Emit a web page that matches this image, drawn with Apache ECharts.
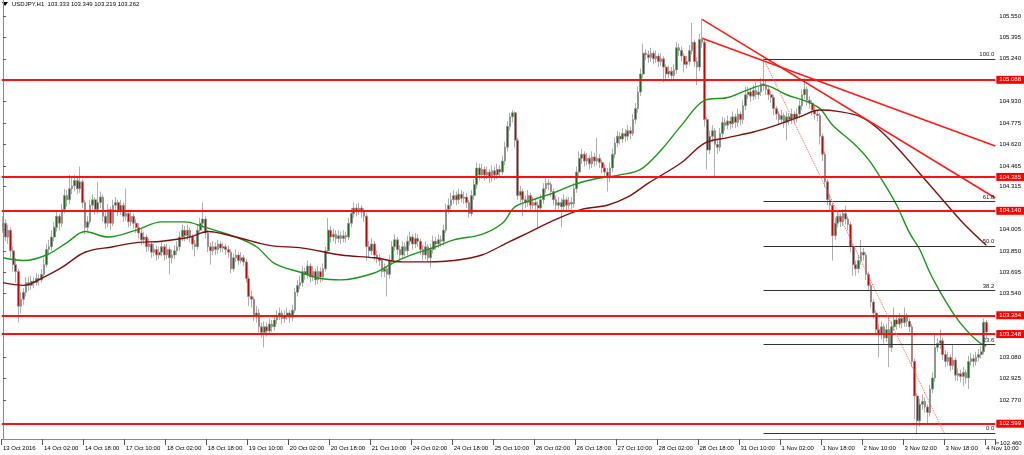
<!DOCTYPE html>
<html><head><meta charset="utf-8">
<script src="https://cdn.jsdelivr.net/npm/echarts@6/dist/echarts.min.js"></script>
<style>html,body{margin:0;padding:0;background:#fff}#c{width:1024px;height:455px}</style>
</head><body><div id="c"></div><script>
// ---- data (USDJPY H1, 13 Oct 10:00 .. 4 Nov 10:00) ----
const symbolTitle = 'USDJPY,H1';
const firstOpen = 104.02;
const closes = [
104.05,103.95,104.00,103.85,103.75,103.70,103.45,103.50,103.55,103.62,
103.60,103.63,103.62,103.65,103.64,103.68,103.75,103.86,103.88,103.95,
104.02,104.10,104.05,104.15,104.25,104.22,104.30,104.32,104.36,104.30,
104.35,104.20,104.02,104.06,104.18,104.22,104.15,104.20,104.24,104.10,
104.05,104.15,104.05,104.18,104.20,104.14,104.18,104.10,104.12,104.06,
104.10,104.05,104.02,103.98,103.93,103.95,103.88,103.90,103.84,103.86,
103.82,103.84,103.88,103.82,103.86,103.80,103.82,103.85,103.88,103.95,
104.00,103.96,104.00,103.95,103.90,103.88,104.00,104.05,104.08,103.98,
103.88,103.85,103.88,103.86,103.90,103.87,103.88,103.86,103.84,103.72,
103.80,103.82,103.78,103.80,103.77,103.65,103.52,103.50,103.38,103.40,
103.30,103.26,103.30,103.27,103.32,103.30,103.35,103.38,103.40,103.36,
103.38,103.40,103.37,103.42,103.55,103.60,103.62,103.70,103.68,103.74,
103.66,103.70,103.64,103.70,103.66,103.72,103.85,104.00,103.95,103.97,
103.94,103.96,103.94,103.96,103.95,104.05,104.12,104.16,104.14,104.16,
104.13,104.10,103.88,103.85,103.90,103.82,103.80,103.78,103.70,103.72,
103.68,103.78,103.88,103.93,103.86,103.82,103.88,103.85,103.92,103.95,
103.90,103.94,103.92,103.86,103.82,103.88,103.80,103.86,103.92,103.90,
103.93,103.92,104.00,104.15,104.18,104.22,104.25,104.22,104.26,104.23,
104.24,104.20,104.12,104.25,104.33,104.45,104.40,104.44,104.40,104.42,
104.38,104.43,104.40,104.44,104.42,104.50,104.60,104.75,104.82,104.85,
104.65,104.25,104.28,104.22,104.20,104.25,104.18,104.20,104.18,104.16,
104.22,104.30,104.34,104.33,104.28,104.22,104.18,104.20,104.17,104.22,
104.18,104.20,104.19,104.30,104.42,104.52,104.55,104.50,104.52,104.48,
104.53,104.50,104.52,104.49,104.45,104.42,104.38,104.45,104.55,104.63,
104.68,104.66,104.70,104.68,104.72,104.70,104.80,104.88,105.00,105.13,
105.28,105.27,105.25,105.28,105.24,105.26,105.22,105.24,105.18,105.13,
105.15,105.12,105.16,105.32,105.30,105.26,105.20,105.22,105.30,105.36,
105.22,105.18,105.38,105.36,104.80,104.58,104.68,104.72,104.62,104.60,
104.70,104.78,104.76,104.79,104.77,104.82,104.78,104.84,104.80,104.90,
104.98,105.00,104.97,105.01,104.98,105.00,105.06,105.05,105.02,104.98,
104.96,104.88,104.84,104.80,104.83,104.78,104.82,104.80,104.84,104.81,
104.84,104.90,104.98,105.02,104.94,104.92,104.87,104.84,104.83,104.68,
104.55,104.35,104.22,104.18,103.96,104.05,104.10,104.06,104.12,104.08,
104.04,103.88,103.75,103.72,103.78,103.84,103.82,103.68,103.60,103.48,
103.40,103.28,103.25,103.30,103.22,103.28,103.15,103.30,103.35,103.32,
103.36,103.33,103.38,103.34,103.30,103.05,102.80,102.62,102.74,102.76,
102.72,102.68,102.85,102.93,103.15,103.18,103.20,103.10,103.05,103.08,
103.02,103.06,102.95,102.96,102.94,102.97,102.93,103.05,103.07,103.05,
103.08,103.10,103.12,103.333,103.262];
const highs = [
104.10,104.08,104.04,104.02,103.88,103.80,103.72,103.55,103.58,103.66,
103.66,103.67,103.66,103.69,103.68,103.72,103.80,103.90,103.93,104.00,
104.06,104.14,104.12,104.19,104.30,104.29,104.40,104.38,104.40,104.39,
104.46,104.37,104.22,104.10,104.22,104.26,104.24,104.35,104.28,104.26,
104.13,104.19,104.17,104.22,104.24,104.22,104.22,104.20,104.30,104.15,
104.14,104.12,104.08,104.05,104.01,103.99,103.97,103.94,103.92,103.90,
103.89,103.88,103.92,103.90,103.90,103.88,103.86,103.89,103.92,103.99,
104.04,104.03,104.04,104.02,103.97,103.93,104.04,104.09,104.20,104.10,
104.00,103.91,103.92,103.91,103.93,103.92,103.91,103.90,103.89,103.86,
103.83,103.86,103.84,103.84,103.82,103.79,103.67,103.56,103.52,103.45,
103.43,103.33,103.34,103.33,103.36,103.35,103.39,103.42,103.44,103.42,
103.42,103.44,103.42,103.46,103.58,103.64,103.67,103.74,103.73,103.78,
103.76,103.74,103.72,103.74,103.73,103.76,103.88,104.09,104.03,104.01,
104.00,104.00,103.99,104.00,103.99,104.09,104.16,104.20,104.19,104.20,
104.18,104.16,104.12,103.92,103.94,103.92,103.85,103.83,103.80,103.76,
103.74,103.82,103.92,103.97,103.95,103.89,103.92,103.91,103.96,103.99,
103.97,103.98,103.97,103.94,103.89,103.92,103.90,103.90,103.96,103.95,
103.97,103.96,104.04,104.19,104.23,104.27,104.29,104.28,104.30,104.29,
104.28,104.27,104.22,104.29,104.37,104.49,104.48,104.48,104.46,104.46,
104.44,104.47,104.46,104.48,104.47,104.54,104.64,104.79,104.85,104.87,
104.86,104.67,104.32,104.30,104.25,104.29,104.27,104.24,104.23,104.21,
104.26,104.34,104.38,104.37,104.35,104.30,104.25,104.24,104.23,104.26,
104.24,104.24,104.24,104.34,104.46,104.57,104.59,104.57,104.56,104.54,
104.57,104.56,104.67,104.55,104.51,104.48,104.45,104.49,104.59,104.67,
104.72,104.71,104.74,104.73,104.76,104.75,104.84,104.92,105.04,105.17,
105.35,105.31,105.30,105.32,105.30,105.30,105.28,105.28,105.26,105.20,
105.19,105.18,105.20,105.36,105.35,105.33,105.28,105.26,105.34,105.50,
105.38,105.25,105.42,105.53,105.38,104.82,104.72,104.76,104.74,104.66,
104.74,104.82,104.81,104.83,104.82,104.86,104.84,104.88,104.86,104.94,
105.04,105.04,105.03,105.05,105.07,105.04,105.10,105.24,105.08,105.04,
105.01,104.98,104.90,104.86,104.87,104.85,104.86,104.85,104.88,104.86,
104.88,104.94,105.02,105.10,105.04,104.97,104.94,104.90,104.87,104.85,
104.70,104.57,104.37,104.26,104.20,104.09,104.14,104.12,104.15,104.18,
104.10,104.06,103.90,103.78,103.82,103.93,103.87,103.84,103.70,103.62,
103.50,103.42,103.32,103.34,103.32,103.32,103.37,103.34,103.44,103.38,
103.40,103.38,103.44,103.40,103.36,103.32,103.07,102.82,102.78,102.81,
102.79,102.74,102.88,102.97,103.25,103.22,103.28,103.22,103.13,103.12,
103.10,103.17,103.08,103.00,102.99,103.01,102.99,103.09,103.11,103.10,
103.12,103.14,103.16,103.36,103.349];
const lows = [
103.98,103.92,103.90,103.80,103.70,103.62,103.33,103.40,103.46,103.52,
103.56,103.57,103.58,103.60,103.60,103.62,103.66,103.73,103.82,103.85,
103.92,103.99,104.00,104.02,104.12,104.17,104.19,104.26,104.28,104.26,
104.27,104.16,103.97,103.99,104.04,104.14,104.11,104.12,104.16,104.06,
104.01,104.02,104.00,104.03,104.14,104.10,104.11,104.06,104.07,104.02,
104.03,104.01,103.98,103.94,103.89,103.90,103.84,103.85,103.80,103.81,
103.78,103.79,103.81,103.78,103.79,103.68,103.76,103.79,103.82,103.85,
103.92,103.92,103.93,103.91,103.86,103.81,103.86,103.97,104.02,103.94,
103.84,103.75,103.82,103.82,103.83,103.84,103.84,103.82,103.80,103.69,
103.70,103.77,103.75,103.76,103.74,103.62,103.45,103.44,103.34,103.33,
103.26,103.22,103.15,103.23,103.24,103.26,103.27,103.32,103.35,103.32,
103.33,103.35,103.33,103.34,103.40,103.52,103.57,103.59,103.64,103.65,
103.62,103.63,103.60,103.61,103.62,103.63,103.70,103.83,103.91,103.92,
103.90,103.91,103.90,103.91,103.91,103.93,104.02,104.09,104.10,104.11,
104.09,104.06,103.78,103.80,103.82,103.78,103.76,103.74,103.66,103.66,
103.52,103.65,103.75,103.85,103.82,103.78,103.79,103.81,103.82,103.89,
103.86,103.87,103.88,103.82,103.78,103.79,103.77,103.73,103.83,103.86,
103.87,103.88,103.89,103.98,104.12,104.15,104.19,104.18,104.19,104.20,
104.19,104.16,104.09,104.10,104.22,104.30,104.36,104.37,104.36,104.37,
104.34,104.35,104.36,104.37,104.38,104.40,104.47,104.57,104.72,104.78,
104.60,104.22,104.20,104.10,104.16,104.17,104.14,104.15,104.14,104.02,
104.13,104.19,104.27,104.29,104.24,104.18,104.14,104.15,104.02,104.14,
104.14,104.15,104.15,104.16,104.27,104.39,104.48,104.46,104.47,104.44,
104.45,104.46,104.47,104.45,104.41,104.38,104.28,104.35,104.42,104.52,
104.60,104.62,104.63,104.64,104.65,104.66,104.68,104.77,104.85,104.97,
105.10,105.23,105.21,105.22,105.20,105.21,105.18,105.19,105.07,105.09,
105.10,105.08,105.09,105.13,105.26,105.22,105.14,105.17,105.19,105.27,
105.18,105.05,105.15,105.32,104.75,104.44,104.55,104.64,104.38,104.55,
104.57,104.67,104.72,104.73,104.73,104.74,104.74,104.75,104.76,104.77,
104.87,104.95,104.93,104.94,104.95,104.95,104.97,105.01,104.98,104.94,
104.92,104.83,104.80,104.76,104.77,104.74,104.65,104.76,104.77,104.77,
104.78,104.81,104.87,104.95,104.90,104.88,104.83,104.80,104.79,104.62,
104.50,104.31,104.18,104.14,103.78,103.93,104.02,104.02,104.03,104.04,
104.00,103.84,103.67,103.67,103.69,103.75,103.78,103.64,103.56,103.44,
103.36,103.24,103.08,103.21,103.18,103.19,103.01,103.12,103.27,103.28,
103.29,103.29,103.30,103.30,103.26,103.01,102.63,102.53,102.58,102.70,
102.68,102.59,102.65,102.82,102.90,103.12,103.14,103.06,103.01,103.02,
102.98,102.99,102.91,102.91,102.90,102.87,102.89,102.85,103.02,103.01,
103.02,103.05,103.07,103.10,103.219];

const tickLabels = ['13 Oct 2016','14 Oct 02:00','14 Oct 18:00','17 Oct 10:00','18 Oct 02:00','18 Oct 18:00',
'19 Oct 10:00','20 Oct 02:00','20 Oct 18:00','21 Oct 10:00','24 Oct 02:00','24 Oct 18:00','25 Oct 10:00',
'26 Oct 02:00','26 Oct 18:00','27 Oct 10:00','28 Oct 02:00','28 Oct 18:00','31 Oct 10:00','1 Nov 02:00',
'1 Nov 18:00','2 Nov 10:00','3 Nov 02:00','3 Nov 18:00','4 Nov 10:00'];
const priceTicks = [105.550,105.395,105.240,104.930,104.775,104.620,104.465,104.315,104.005,103.850,
103.695,103.540,103.080,102.925,102.770];
const bottomPriceTick = 102.460;
const levels = [105.088,104.385,104.140,103.384,103.248,102.599];

const maGreen = [[0,103.80],[8,103.78],[17,103.82],[25,103.91],[32,103.99],[41,103.95],[52,104.00],[62,104.06],
[71,104.06],[79,104.02],[91,103.95],[99,103.88],[106,103.76],[117,103.69],[124,103.65],[132,103.64],[145,103.69],
[152,103.76],[158,103.81],[169,103.88],[176,103.93],[187,103.97],[195,104.05],[200,104.17],[207,104.22],[215,104.27],
[223,104.33],[231,104.37],[241,104.40],[249,104.44],[257,104.58],[265,104.76],[274,104.94],[283,104.96],[290,105.01],
[297,105.05],[306,104.98],[314,104.93],[319,104.88],[324,104.76],[332,104.63],[338,104.51],[344,104.34],[349,104.18],
[354,103.98],[358,103.86],[362,103.69],[367,103.52],[371,103.40],[376,103.28],[381,103.19],[384,103.16]];
const maMaroon = [[0,103.62],[8,103.60],[16,103.66],[23,103.73],[32,103.84],[43,103.88],[52,103.91],[62,103.92],
[73,103.95],[80,103.99],[91,103.95],[104,103.89],[117,103.87],[132,103.82],[145,103.80],[156,103.77],[166,103.77],
[176,103.78],[187,103.82],[197,103.91],[205,103.98],[215,104.07],[226,104.15],[236,104.18],[244,104.24],[252,104.34],
[265,104.49],[274,104.63],[283,104.67],[293,104.71],[302,104.76],[311,104.82],[319,104.87],[326,104.86],[335,104.82],
[342,104.73],[350,104.58],[358,104.41],[366,104.24],[375,104.05],[384,103.89]];

const trend1 = [[273,105.526],[387.5,104.233]];
const trend2 = [[273,105.389],[387.5,104.609]];
const fibHigh = 105.240, fibLow = 102.533;
const fibStartBar = 297, fibEndBar = 367.5;
const fibRatios = [100.0, 61.8, 50.0, 38.2, 23.6, 0.0];

// ---- chart ----
const NCAT = 388;
const cats = Array.from({length: NCAT}, (_, i) => String(i));
const opens = closes.map((c, i) => i === 0 ? firstOpen : closes[i - 1]);
const candles = closes.map((c, i) => [opens[i], c, lows[i], highs[i]]);
const FONT = 'Liberation Sans';
const FS = 6;
const yMax = 105.6658, yMin = 102.4883;

const chart = echarts.init(document.getElementById('c'), null, {renderer: 'canvas'});
const fibLines = fibRatios.map(r => {
  const p = fibLow + (fibHigh - fibLow) * r / 100;
  return [{coord: [fibStartBar, p], label: {formatter: r.toFixed(1)}}, {coord: [387.5, p]}];
});
const last = closes.length - 1;
const option = {
  animation: false,
  backgroundColor: '#ffffff',
  grid: {left: 0, right: 28, top: 0, bottom: 16, containLabel: false},
  xAxis: [{
    type: 'category', data: cats, boundaryGap: true, gridIndex: 0,
    axisLine: {show: true, lineStyle: {color: '#8a8a8a', width: 1}},
    axisTick: {show: true, interval: (i) => i % 16 === 0, length: 6, lineStyle: {color: '#555'}},
    axisLabel: {show: true, interval: (i) => i % 16 === 0, formatter: (v, i) => tickLabels[i / 16] || '',
      align: 'left', margin: 6, fontSize: FS, fontFamily: FONT, color: '#000'},
    splitLine: {show: false}
  }, {
    type: 'value', min: -0.5, max: NCAT - 0.5, show: false, gridIndex: 0
  }],
  yAxis: [{
    type: 'value', position: 'right', min: yMin, max: yMax, scale: true,
    axisLine: {show: true, lineStyle: {color: '#8a8a8a', width: 1}},
    axisTick: {show: true, customValues: priceTicks, length: 3, lineStyle: {color: '#555'}},
    axisLabel: {show: true, customValues: priceTicks, formatter: v => Number(v).toFixed(3),
      margin: 4, fontSize: FS, fontFamily: FONT, color: '#000'},
    splitLine: {show: false}
  }],
  series: [{
    type: 'candlestick', xAxisIndex: 0, yAxisIndex: 0, data: candles, barWidth: 2.2,
    itemStyle: {color: '#1b6b1b', color0: '#cc0000', borderColor: '#8c8c8c', borderColor0: '#8c8c8c', borderWidth: 0.7},
    markLine: {
      silent: true, symbol: 'none', animation: false, precision: 3,
      lineStyle: {color: '#ff1010', width: 2, type: 'solid', opacity: 1},
      label: {show: true, position: 'end', distance: 1,
        color: '#fff', backgroundColor: '#ff0000', padding: [1, 3, 1, 3], fontSize: FS, fontFamily: FONT},
      data: levels.map(v => ({yAxis: v, label: {formatter: v.toFixed(3)}}))
    }
  }, {
    type: 'line', xAxisIndex: 1, yAxisIndex: 0, data: maGreen, smooth: 0.35, showSymbol: false,
    lineStyle: {color: '#1a961a', width: 1.4}, z: 3
  }, {
    type: 'line', xAxisIndex: 1, yAxisIndex: 0, data: maMaroon, smooth: 0.35, showSymbol: false,
    lineStyle: {color: '#7e1010', width: 1.4}, z: 3
  }, {
    type: 'line', xAxisIndex: 1, yAxisIndex: 0, data: trend1, showSymbol: false,
    lineStyle: {color: '#ff1a1a', width: 1.6}, z: 4,
    markLine: {
      silent: true, symbol: 'none', animation: false, precision: 3,
      lineStyle: {color: '#333', width: 1, type: 'solid'},
      label: {show: true, position: 'insideEndTop', distance: 1, color: '#222', fontSize: FS, fontFamily: FONT},
      data: fibLines.concat([[{coord: [fibStartBar, fibHigh], lineStyle: {color: '#ff5a5a', type: 'dotted', width: 1}, label: {show: false}},
                              {coord: [fibEndBar, fibLow]}]])
    }
  }, {
    type: 'line', xAxisIndex: 1, yAxisIndex: 0, data: trend2, showSymbol: false,
    lineStyle: {color: '#ff1a1a', width: 1.6}, z: 4
  }]
};
chart.setOption(option);
const yb = chart.convertToPixel({yAxisIndex: 0}, bottomPriceTick);
const fmt = v => v.toFixed(3);
chart.setOption({graphic: [
  {type: 'polygon', shape: {points: [[2, 2], [8, 2], [5, 6]]}, style: {fill: '#000'}},
  {type: 'text', x: 12, y: 4, style: {text: symbolTitle + '  ' + [opens[last], highs[last], lows[last], closes[last]].map(fmt).join(' '),
    fontSize: FS, fontFamily: FONT, fill: '#000', verticalAlign: 'middle'}},
  {type: 'line', shape: {x1: 996, y1: yb, x2: 999, y2: yb}, style: {stroke: '#555', lineWidth: 1}},
  {type: 'text', x: 1000, y: yb, style: {text: fmt(bottomPriceTick), fontSize: FS, fontFamily: FONT, fill: '#000', verticalAlign: 'middle'}}
]});
</script></body></html>
